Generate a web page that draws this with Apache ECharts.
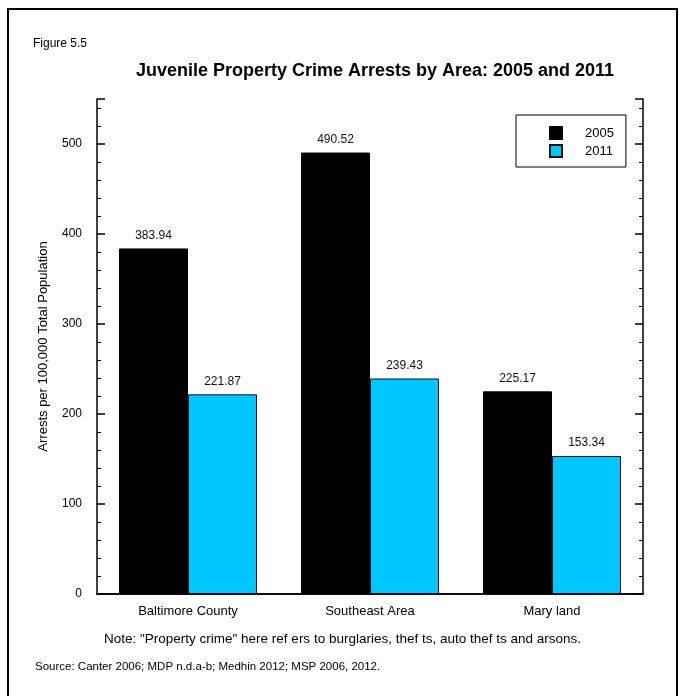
<!DOCTYPE html>
<html>
<head>
<meta charset="utf-8">
<script src="https://cdn.jsdelivr.net/npm/echarts@6/dist/echarts.min.js"></script>
<style>
html,body{margin:0;padding:0;background:#fff;}
#chart{width:685px;height:696px;}
</style>
</head>
<body>
<div id="chart"></div>
<script>
var categories = ['Baltimore County', 'Southeast Area', 'Mary land'];
var values2005 = [383.94, 490.52, 225.17];
var values2011 = [221.87, 239.43, 153.34];
var seriesNames = ['2005', '2011'];
var yTicks = [0, 100, 200, 300, 400, 500];

var FONT = '"Liberation Sans", Arial, sans-serif';
var chart = echarts.init(document.getElementById('chart'), null, {renderer: 'canvas'});

var labelStyle = {
  show: true, position: 'top', distance: 7,
  fontFamily: FONT, fontSize: 12, color: '#111',
  formatter: function (p) { return p.value.toFixed(2); }
};

var option = {
  backgroundColor: '#fff',
  animation: false,
  title: [
    {text: 'Figure 5.5', left: 28, top: 33, textStyle: {fontFamily: FONT, fontSize: 12, fontWeight: 'normal', color: '#000'}},
    {text: 'Juvenile Property Crime Arrests by Area: 2005 and 2011', left: 370, textAlign: 'center', top: 57,
     textStyle: {fontFamily: FONT, fontSize: 18, fontWeight: 'bold', color: '#000'}}
  ],
  legend: {
    data: seriesNames,
    orient: 'vertical',
    left: 516, top: 115,
    padding: [11, 12, 9, 33],
    itemGap: 4,
    itemWidth: 12, itemHeight: 12,
    icon: 'rect',
    borderColor: '#000', borderWidth: 1,
    textStyle: {fontFamily: FONT, fontSize: 13, color: '#000', padding: [0, 0, 0, 18]}
  },
  grid: {left: 97, right: 42, top: 99, bottom: 102, containLabel: false},
  xAxis: [
    {
      type: 'category', data: categories, position: 'bottom',
      axisLine: {show: true, lineStyle: {color: '#000', width: 1.5}},
      axisTick: {show: false},
      axisLabel: {fontFamily: FONT, fontSize: 13, color: '#000', margin: 11},
      splitLine: {show: false}
    },
    {
      type: 'category', data: categories, position: 'top',
      axisLine: {show: true, lineStyle: {color: '#000', width: 1.5}},
      axisTick: {show: false}, axisLabel: {show: false}, splitLine: {show: false}
    }
  ],
  yAxis: [
    {
      type: 'value', min: 0, max: 550, interval: 100, position: 'left',
      name: 'Arrests per 100,000 Total Population', nameLocation: 'middle', nameGap: 47,
      nameTextStyle: {fontFamily: FONT, fontSize: 13, color: '#000'},
      axisLine: {show: true, lineStyle: {color: '#000', width: 1.5}},
      axisTick: {show: true, inside: true, length: 8, lineStyle: {color: '#000', width: 1.5}},
      minorTick: {show: true, splitNumber: 5, length: 4, lineStyle: {color: '#000', width: 1}},
      axisLabel: {fontFamily: FONT, fontSize: 12, color: '#000', margin: 15,
        formatter: function (v) { return yTicks.indexOf(v) >= 0 ? String(v) : ''; }},
      splitLine: {show: false}
    },
    {
      type: 'value', min: 0, max: 550, interval: 100, position: 'right',
      axisLine: {show: true, lineStyle: {color: '#000', width: 1.5}},
      axisTick: {show: true, inside: true, length: 8, lineStyle: {color: '#000', width: 1.5}},
      minorTick: {show: true, splitNumber: 5, length: 4, lineStyle: {color: '#000', width: 1}},
      axisLabel: {show: false},
      splitLine: {show: false}
    }
  ],
  series: [
    {
      name: seriesNames[0], type: 'bar', data: values2005,
      barWidth: 69, barGap: '0%',
      itemStyle: {color: '#000000', borderColor: '#000', borderWidth: 1},
      label: labelStyle
    },
    {
      name: seriesNames[1], type: 'bar', data: values2011,
      barWidth: 69, barGap: '0%',
      itemStyle: {color: '#00C8FF', borderColor: '#111', borderWidth: 1},
      label: labelStyle
    }
  ],
  graphic: [
    {type: 'polyline', shape: {points: [[8, 696], [8, 9], [677, 9], [677, 696]]},
     style: {stroke: '#000', lineWidth: 2, fill: null}, silent: true},
    {type: 'text', left: 'center', top: 632,
     style: {text: 'Note: "Property crime" here ref ers to burglaries, thef ts, auto thef ts and arsons.',
       font: '13.5px "Liberation Sans", Arial, sans-serif', fill: '#000'}},
    {type: 'text', left: 35, top: 661,
     style: {text: 'Source: Canter 2006; MDP n.d.a-b; Medhin 2012; MSP 2006, 2012.',
       font: '11.5px "Liberation Sans", Arial, sans-serif', fill: '#000'}}
  ]
};
chart.setOption(option);
</script>
</body>
</html>
